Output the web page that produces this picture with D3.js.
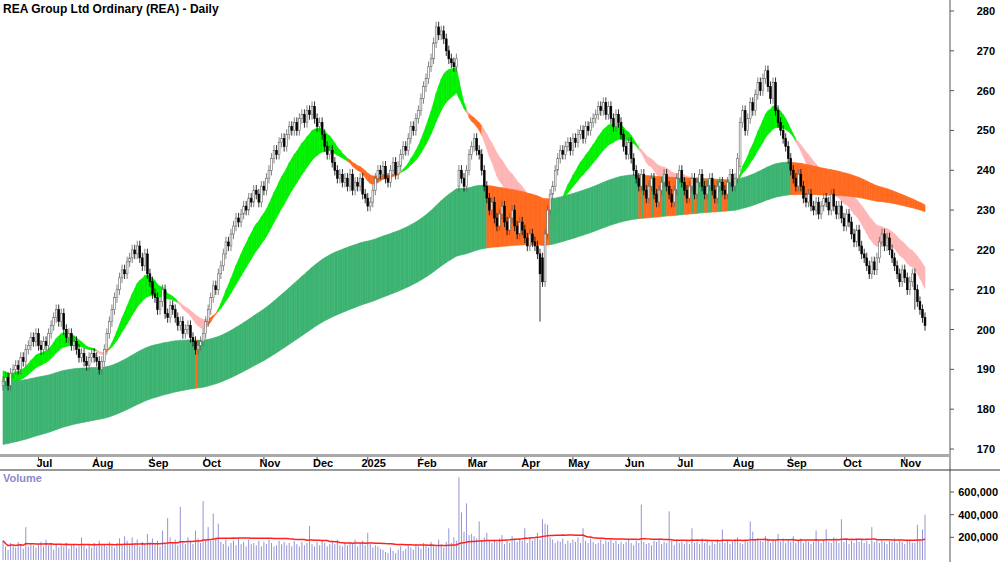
<!DOCTYPE html>
<html><head><meta charset="utf-8">
<script src="https://cdn.jsdelivr.net/npm/d3@7"></script>
<style>body{margin:0;background:#fff}text{font-family:"Liberation Sans",Arial,sans-serif}</style>
</head><body><svg id="c" width="1000" height="562"></svg>
<script>
// daily closes, one row per week (Mon-Fri), first day 2024-06-11
var closes = [
187,188,186,189,190, 191,190,193,192,195, 196,198,197,199,196, 195,197,196,199,201,
203,205,202,204,200, 198,199,196,197,195, 193,194,192,191,193, 194,193,192,190,192,
195,199,202,205,208, 210,213,215,214,217, 218,220,219,221,218, 216,219,214,212,209,
208,205,207,210,204, 203,206,205,203,201, 202,199,200,201,198, 197,195,196,197,199,
202,205,208,211,210, 214,216,219,222,221, 224,226,228,227,229, 231,230,233,232,235,
234,232,236,235,238, 240,243,245,244,247, 248,246,249,251,250, 252,250,253,254,252,
255,254,256,253,251, 252,249,246,244,245, 242,240,238,239,237, 238,236,239,235,237,
236,238,234,233,231, 232,235,238,240,239, 241,238,237,240,242, 239,241,244,246,245,
248,251,250,253,255, 258,261,263,266,268, 272,276,274,275,273, 270,268,267,266,268,
240,238,236,240,244, 246,248,245,244,240, 236,233,230,232,228, 226,229,231,227,225,
228,230,226,224,227, 225,223,221,224,222, 221,219,214,212,224, 230,234,236,240,243,
245,244,246,247,245, 248,247,249,250,248, 251,250,252,253,254, 256,255,257,254,256,
253,251,254,252,249, 246,244,247,243,240, 238,236,239,235,233, 236,238,234,232,235,
237,239,236,234,232, 235,238,240,237,235, 233,236,238,234,237, 239,236,234,236,238,
235,233,236,237,235, 234,237,239,236,238, 243,252,255,250,253, 257,255,259,262,260,
263,265,261,258,262, 255,252,250,248,246, 243,240,238,236,239, 236,233,232,234,231,
230,232,229,231,233, 232,230,234,231,229, 231,228,226,229,227, 224,222,225,221,219,
218,216,214,217,215, 218,222,224,221,223, 220,218,216,214,212, 215,213,210,212,214,
210,207,205,203,201
];
// opens that gap away from the previous close [dayIndex, open]
var gapOpens = [[180, 236], [213, 218], [291, 241]];
// notable long wicks [dayIndex, low]
var longWicks = [[212, 202], [360, 205]];
// daily volume in thousands
var volumes = [
170,120,90,150,130, 110,160,140,100,290, 120,150,130,110,140, 160,120,180,130,150,
90,140,110,130,120, 150,100,130,140,110, 120,200,130,100,140, 110,150,120,170,130,
140,120,160,130,110, 150,190,140,210,170, 130,200,150,180,120, 160,140,230,150,190,
140,170,120,260,150, 370,200,150,180,130, 470,160,140,200,170, 140,260,190,150,520,
180,290,170,410,200, 320,160,140,180,120, 150,170,130,200,140, 160,120,180,140,150,
130,170,120,160,140, 180,150,120,130,170, 140,160,130,150,120, 170,140,120,160,130,
150,300,140,120,160, 130,170,150,120,140, 160,140,180,130,120, 150,130,160,140,180,
120,150,170,130,240, 140,110,130,120,100, 90,70,60,110,80, 60,90,120,80,100,
130,110,90,140,120, 100,150,130,110,160, 130,120,180,140,110, 160,280,150,200,170,
730,420,250,500,220, 230,210,190,340,180, 200,240,170,150,180, 160,190,220,140,170,
150,210,180,160,190, 170,280,150,200,170, 190,240,180,360,320, 310,200,180,150,170,
160,190,140,170,150, 180,160,200,150,280, 170,150,190,160,140, 150,180,140,170,160,
190,150,170,140,160, 140,160,180,150,130, 170,150,490,160,140, 150,130,170,160,190,
140,160,150,430,170, 130,180,150,160,140, 170,140,280,150,160, 140,190,150,170,130,
160,140,180,150,270, 150,170,140,160,180, 200,150,140,170,160, 340,250,180,190,170,
160,210,190,150,180, 170,230,160,190,150, 180,160,210,150,170, 190,150,170,160,140,
160,260,170,150,180, 270,160,150,200,170, 150,360,160,180,140, 170,150,190,160,180,
150,170,140,290,160, 180,150,170,160,140, 170,160,190,150,170, 160,140,180,170,150,
150,310,180,270,400
];
var shortPeriods = [15, 18, 21, 24, 27, 30];
var longPeriods = [140, 160, 180, 200, 225, 250];
var shortSeeds = [190, 189, 188, 187, 186.5, 186];
var longSeeds = [187, 184, 181, 178, 175, 171];
var holidays = ["2024-12-25","2024-12-26","2025-01-01","2025-01-27","2025-04-18","2025-04-21","2025-04-25","2025-06-09"];
var priceTicks = [170, 180, 190, 200, 210, 220, 230, 240, 250, 260, 270, 280];
var volTicks = [200000, 400000, 600000];
var monthNames = ["2025","Feb","Mar","Apr","May","Jun","Jul","Aug","Sep","Oct","Nov","Dec"];

// trading dates
var dates = [];
var d = new Date(2024, 5, 11);
var fmt = d3.timeFormat("%Y-%m-%d");
while (dates.length < closes.length) {
  if (d.getDay() > 0 && d.getDay() < 6 && holidays.indexOf(fmt(d)) < 0) dates.push(new Date(d));
  d.setDate(d.getDate() + 1);
}

function ema(seed, n) {
  var k = 2 / (n + 1), out = [], v = seed;
  closes.forEach(function(c) { v = c * k + v * (1 - k); out.push(v); });
  return out;
}
var shortE = shortPeriods.map(function(p, i) { return ema(shortSeeds[i], p); });
var longE = longPeriods.map(function(p, i) { return ema(longSeeds[i], p); });

var svg = d3.select("#c");
var W = 950;
var x = d3.scaleLinear().domain([0, closes.length - 1]).range([3, 925]);
var y = d3.scaleLinear().domain([170, 280]).range([449, 11]);
var yv = d3.scaleLinear().domain([0, 600000]).range([560, 492]);

function band(series, color) {
  for (var i = 0; i < closes.length - 1; i++) {
    var pts = [i, i + 1].map(function(j) {
      var vals = series.map(function(s) { return s[j]; });
      return [x(j), y(d3.min(vals)), y(d3.max(vals))];
    });
    svg.append("path")
      .attr("d", d3.area().x(function(p){return p[0];}).y0(function(p){return p[1];}).y1(function(p){return p[2];})(pts))
      .attr("fill", color(i)).attr("stroke", color(i)).attr("stroke-width", 0.6);
  }
}

// short ribbon
band(shortE, function(i) {
  if (shortE[0][i] >= shortE[5][i]) return "#00f000";
  return closes[i] > longE[0][i] + 5 ? "#ff6a1f" : "#ffb5b5";
});
// long ribbon
band(longE, function(i) {
  return (closes[i] < longE[0][i] - 2 || longE[0][i] < longE[5][i]) ? "#ff6a1f" : "#3cb371";
});

// candles
var wickMap = {}, gapMap = {};
longWicks.forEach(function(w) { wickMap[w[0]] = w[1]; });
gapOpens.forEach(function(g) { gapMap[g[0]] = g[1]; });
closes.forEach(function(c, i) {
  var o = gapMap[i] !== undefined ? gapMap[i] : (i ? closes[i - 1] : c - 1);
  var hi = Math.max(o, c) + 1.3, lo = Math.min(o, c) - 1.3;
  if (wickMap[i] !== undefined) lo = wickMap[i];
  var cx = x(i), up = c >= o;
  svg.append("line").attr("x1", cx).attr("x2", cx).attr("y1", y(hi)).attr("y2", y(lo))
    .attr("stroke", up ? "#666" : "#000").attr("stroke-width", 0.8);
  svg.append("rect").attr("x", cx - 0.9).attr("width", 1.8)
    .attr("y", y(Math.max(o, c))).attr("height", Math.max(1, Math.abs(y(o) - y(c))))
    .attr("fill", up ? "#fff" : "#000").attr("stroke", up ? "#666" : "#000").attr("stroke-width", 0.6);
});

// frames
svg.append("line").attr("x1", W).attr("x2", W).attr("y1", 0).attr("y2", 562).attr("stroke", "#555");
svg.append("rect").attr("x", 0).attr("y", 454).attr("width", W).attr("height", 3).attr("fill", "#aaa");
svg.append("line").attr("x1", 0).attr("x2", 1000).attr("y1", 470).attr("y2", 470).attr("stroke", "#333");

svg.append("text").attr("x", 3).attr("y", 13).attr("font-size", 12).attr("font-weight", "bold")
  .text("REA Group Ltd Ordinary (REA) - Daily");

priceTicks.forEach(function(t) {
  svg.append("line").attr("x1", W).attr("x2", W + 4).attr("y1", y(t)).attr("y2", y(t)).attr("stroke", "#555");
  svg.append("text").attr("x", 995).attr("y", y(t) + 4).attr("text-anchor", "end")
    .attr("font-size", 11).attr("font-weight", "bold").text(t);
});

// month ticks
dates.forEach(function(dt, i) {
  if (i > 0 && dt.getMonth() !== dates[i - 1].getMonth()) {
    var tx = x(i);
    svg.append("line").attr("x1", tx).attr("x2", tx).attr("y1", 457).attr("y2", 461).attr("stroke", "#555");
    var m = dt.getMonth();
    svg.append("text").attr("x", tx + 6).attr("y", 467).attr("text-anchor", "middle")
      .attr("font-size", 11).attr("font-weight", "bold").text(m === 0 ? "2025" : monthNames[m]);
  }
});

// volume
svg.append("text").attr("x", 3).attr("y", 482).attr("font-size", 11).attr("font-weight", "bold")
  .attr("fill", "#8a8acb").text("Volume");
volumes.forEach(function(v, i) {
  svg.append("line").attr("x1", x(i)).attr("x2", x(i)).attr("y1", yv(0)).attr("y2", yv(v * 1000))
    .attr("stroke", "#9494d4").attr("stroke-width", 1);
});
var ma = volumes.map(function(v, i) {
  return d3.mean(volumes.slice(Math.max(0, i - 49), i + 1)) * 1000;
});
svg.append("path").attr("d", d3.line().x(function(v, i){return x(i);}).y(function(v){return yv(v);})(ma))
  .attr("fill", "none").attr("stroke", "#ff2020").attr("stroke-width", 1.5);
volTicks.forEach(function(t) {
  svg.append("line").attr("x1", W).attr("x2", W + 4).attr("y1", yv(t)).attr("y2", yv(t)).attr("stroke", "#555");
  svg.append("text").attr("x", 998).attr("y", yv(t) + 4).attr("text-anchor", "end")
    .attr("font-size", 11).attr("font-weight", "bold").text(d3.format(",")(t));
});
</script></body></html>
